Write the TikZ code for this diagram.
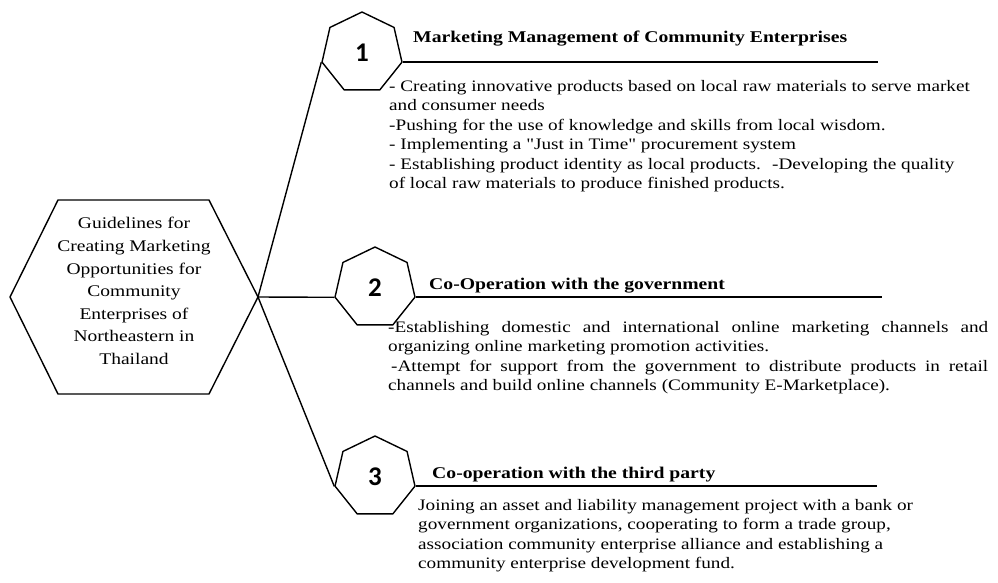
\documentclass[tikz,border=0pt]{standalone}
\usepackage{fontspec}
\setmainfont[FakeStretch=1.2]{Liberation Serif}
\newfontfamily\numfont{Carlito}
\usetikzlibrary{shapes.geometric}
\setlength{\parindent}{0pt}
\hyphenpenalty=10000
\exhyphenpenalty=10000
\newcommand{\dq}{{\addfontfeature{Ligatures=TeXOff}"}}

\begin{document}
\begin{tikzpicture}[x=1pt,y=-1pt,line join=round]
	\tikzstyle{every node}=[font=\fontsize{16pt}{19.5pt}\selectfont, inner sep=0pt]
	\tikzstyle{hepta}=[draw, line width=1.4pt, regular polygon, regular polygon sides=7, minimum size=82pt, font=\fontsize{27pt}{30pt}\numfont\bfseries]
	\tikzstyle{heading}=[anchor=base west, font=\fontsize{16.4pt}{20pt}\selectfont\bfseries]
	\tikzstyle{body}=[anchor=north west, align=left]
	\tikzstyle{spoke}=[line width=1.4pt]
	\tikzstyle{rule}=[line width=1.8pt]
	
	\useasboundingbox (0,0) rectangle (998,582);
	
	% centre hexagon
	\coordinate (west) at (10,297);
	\coordinate (hub) at (258,297);
	\draw[spoke] (west) -- (58,200) -- (209,200) -- (hub) -- (209,394) -- (58,394) -- cycle;
	\node[align=center, font=\fontsize{16.25pt}{22.6pt}\selectfont] (goal) at (134,291) {Guidelines for\\Creating Marketing\\Opportunities for\\Community\\Enterprises of\\Northeastern in\\Thailand};
	
	\node[hepta] (h1) at (362,53) {1};
	\node[hepta] (h2) at (375,288) {2};
	\node[hepta] (h3) at (375,477) {3};
	
	\draw[spoke] (hub) -- (h1.corner 3);
	\draw[spoke] (hub) -- (h2.corner 3);
	\draw[spoke] (hub) -- (h3.corner 3);
	
	\coordinate (r1) at (878,60);
	\coordinate (r2) at (882,297);
	\coordinate (r3) at (877,486);
	\draw[rule] (h1.corner 6) -- (h1.corner 6 -| r1);
	\draw[rule] (h2.corner 6) -- (h2.corner 6 -| r2);
	\draw[rule] (h3.corner 6) -- (h3.corner 6 -| r3);
	
	\node[heading] (t1) at (413,42) {Marketing Management of Community Enterprises};
	\node[heading] (t2) at (429,289) {Co-Operation with the government};
	\node[heading] (t3) at (432,478) {Co-operation with the third party};
	
	\node[body] (b1) at (389,80) {- Creating innovative products based on local raw materials to serve market\\and consumer needs\\-Pushing for the use of knowledge and skills from local wisdom.\\- Implementing a \dq Just in Time\dq{} procurement system\\- Establishing product identity as local products.~ -Developing the quality\\of local raw materials to produce finished products.};
	
	\node[body, text width=600pt, align=justify] (b2) at (388,321) {-Establishing domestic and international online marketing channels and organizing online marketing promotion activities.\par\hspace*{3pt}-Attempt for support from the government to distribute products in retail channels and build online channels (Community E-Marketplace).};
	
	\node[body] (b3) at (418,499) {Joining an asset and liability management project with a bank or\\government organizations, cooperating to form a trade group,\\association community enterprise alliance and establishing a\\community enterprise development fund.};
	
\end{tikzpicture}
\end{document}
